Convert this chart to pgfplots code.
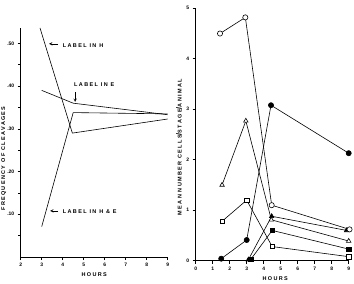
\documentclass[border=0pt]{standalone}
\usepackage{fontspec}
\setmainfont{Liberation Sans}
\newfontfamily\lbl[LetterSpace=25]{Liberation Sans}
\usepackage{pgfplots}
\pgfplotsset{compat=1.18}
\begin{document}
\begin{tikzpicture}[x=1bp,y=1bp]
\useasboundingbox (0,0) rectangle (354,284);
\pgfplotsset{
  every axis/.append style={
    scale only axis, clip=false,
    axis x line=bottom, axis y line=left,
    axis line style={-, line width=0.8bp},
    tick style={black, line width=0.6bp},
    major tick length=3bp, minor tick length=2.5bp,
    tick align=outside,
    /pgf/number format/assume math mode=true,
    tick label style={font=\fontsize{5}{6}\selectfont\bfseries},
    label style={font=\fontsize{5.5}{6}\selectfont\bfseries\lbl},
  }
}
% ---------- left panel ----------
\begin{axis}[
  at={(20.7bp,27bp)}, anchor=south west,
  width=147bp, height=229bp,
  xmin=2, xmax=9, ymin=0, ymax=0.536,
  xtick={2,3,4,5,6,7,8,9},
  ytick={0.1,0.2,0.3,0.4,0.5},
  yticklabels={.10,.20,.30,.40,.50},
  minor ytick={0.05,0.15,0.25,0.35,0.45},
  xlabel={HOURS},
  xlabel style={at={(axis description cs:0.5,-0.075)}, anchor=center},
  ylabel={FREQUENCY OF CLEAVAGES},
  ylabel style={at={(axis description cs:-0.115,0.43)}, anchor=center, rotate=0},
]
\addplot[black, line width=0.6bp] coordinates {(2.92,0.536) (4.46,0.29) (9,0.323)};
\addplot[black, line width=0.6bp] coordinates {(3,0.39) (4.5,0.36) (9,0.333)};
\addplot[black, line width=0.6bp] coordinates {(3,0.071) (4.5,0.338) (9,0.335)};
\draw[-stealth, line width=0.5bp] (axis cs:3.78,0.499) -- (axis cs:3.35,0.499);
\node[anchor=west, inner sep=0pt, font=\fontsize{5.5}{6}\selectfont\bfseries\lbl] at (axis cs:4.0,0.495) {LABEL IN H};
\node[anchor=west, inner sep=0pt, font=\fontsize{5.5}{6}\selectfont\bfseries\lbl] at (axis cs:4.54,0.403) {LABEL IN E};
\draw[-stealth, line width=0.5bp] (axis cs:4.59,0.386) -- (axis cs:4.59,0.363);
\draw[-stealth, line width=0.5bp] (axis cs:3.78,0.108) -- (axis cs:3.4,0.108);
\node[anchor=west, inner sep=0pt, font=\fontsize{5.5}{6}\selectfont\bfseries\lbl] at (axis cs:4.0,0.106) {LABEL IN H \& E};
\end{axis}
% ---------- right panel ----------
\begin{axis}[
  at={(195.7bp,23.3bp)}, anchor=south west,
  width=153bp, height=252.4bp,
  xmin=0, xmax=9, ymin=0, ymax=5,
  xtick={0,1,2,3,4,5,6,7,8,9},
  ytick={0,1,2,3,4,5},
  xlabel={HOURS},
  xlabel style={at={(axis description cs:0.52,-0.07)}, anchor=center},
  ylabel={MEAN\enspace NUMBER\enspace CELLS{\fontsize{7.5}{8}\selectfont/}STAGE{\fontsize{7.5}{8}\selectfont/}ANIMAL},
  ylabel style={at={(axis description cs:-0.11,0.45)}, anchor=center, rotate=0},
  every axis plot/.append style={black, line width=0.6bp, mark size=2.6bp, mark options={solid, line width=0.6bp}},
]
\addplot[mark=*, mark options={fill=black}] coordinates {(1.5,0.04) (3.0,0.41) (4.43,3.08) (9,2.13)};
\addplot[mark=triangle*, mark options={fill=black}] coordinates {(3.1,0.02) (4.47,0.88) (8.88,0.6)};
\addplot[mark=square*, mark options={fill=black}, mark size=2.2bp] coordinates {(3.25,0.03) (4.5,0.6) (9,0.23)};
\addplot[mark=*, mark options={fill=white}] coordinates {(1.43,4.5) (2.92,4.82) (4.47,1.1) (9.05,0.62)};
\addplot[mark=triangle*, mark options={fill=white}] coordinates {(1.55,1.5) (2.95,2.77) (4.45,0.81) (9,0.39)};
\addplot[mark=square*, mark options={fill=white}, mark size=2.2bp] coordinates {(1.55,0.78) (3.0,1.2) (4.5,0.28) (9,0.08)};
\end{axis}
\end{tikzpicture}
\end{document}
